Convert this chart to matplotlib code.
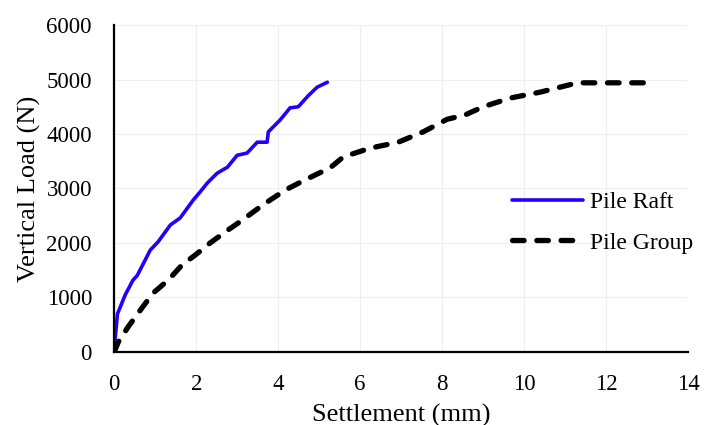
import matplotlib
matplotlib.use('Agg')
import matplotlib.pyplot as plt

# ==================== 数据 ====================

raft_x = [0.0, 0.03, 0.08, 0.27, 0.46, 0.56, 0.88, 1.07, 1.37, 1.61, 1.93, 2.1, 2.27, 2.51, 2.76,
          3.0, 3.24, 3.49, 3.73, 3.76, 4.05, 4.29, 4.49, 4.73, 4.95, 5.2]
raft_y = [0, 300, 700, 1050, 1320, 1400, 1870, 2020, 2330, 2460, 2790, 2940, 3100, 3280, 3390,
          3610, 3650, 3850, 3850, 4040, 4260, 4480, 4500, 4700, 4860, 4950]

group_x = [0.0, 0.1, 0.34, 0.68, 0.95, 1.32, 1.66, 1.98, 2.34, 2.78, 3.07, 3.63, 4.17, 4.66,
           5.27, 5.59, 6.24, 6.93, 7.54, 8.12, 8.56, 9.0, 9.66, 10.4, 11.3, 11.93, 12.76, 13.07]
group_y = [0, 180, 460, 810, 1080, 1320, 1600, 1780, 2000, 2240, 2390, 2700, 2970, 3160,
           3380, 3580, 3740, 3850, 4040, 4270, 4350, 4500, 4660, 4770, 4940, 4940, 4940, 4940]

x_ticks = [0, 2, 4, 6, 8, 10, 12, 14]
y_ticks = [0, 1000, 2000, 3000, 4000, 5000, 6000]

# ==================== 绘图 ====================

plt.rcParams['font.family'] = ['Liberation Serif', 'DejaVu Serif']

fig = plt.figure(figsize=(7.05, 4.25), dpi=100)
ax = fig.add_axes([0.162, 0.172, 0.814, 0.769])

ax.plot(raft_x, raft_y, color='#2200FF', lw=2.6, label='Pile Raft', solid_capstyle='round')
ax.plot(group_x, group_y, color='black', lw=3.8, ls=(0, (2.2, 2.4)), dash_capstyle='round',
        label='Pile Group')

ax.set_xlim(0, 14)
ax.set_ylim(0, 6000)
ax.set_xticks(x_ticks)
ax.set_yticks(y_ticks)
ax.tick_params(length=0, labelsize=16.5)
ax.tick_params(axis='x', pad=16)
ax.tick_params(axis='y', pad=16)
ax.grid(True, color='#eeeeee', lw=0.8)
ax.set_axisbelow(True)

for s in ['top', 'right']:
    ax.spines[s].set_visible(False)
for s in ['left', 'bottom']:
    ax.spines[s].set_linewidth(1.6)

ax.set_xlabel('Settlement (mm)', fontsize=19, labelpad=6)
ax.set_ylabel('Vertical Load (N)', fontsize=19, labelpad=4)

ax.legend(loc='upper left', bbox_to_anchor=(0.693, 0.49), frameon=False, fontsize=17,
          handlelength=3.0, handletextpad=0.3, labelspacing=0.8,
          borderpad=0, borderaxespad=0)

fig.savefig('out.png', dpi=100)
